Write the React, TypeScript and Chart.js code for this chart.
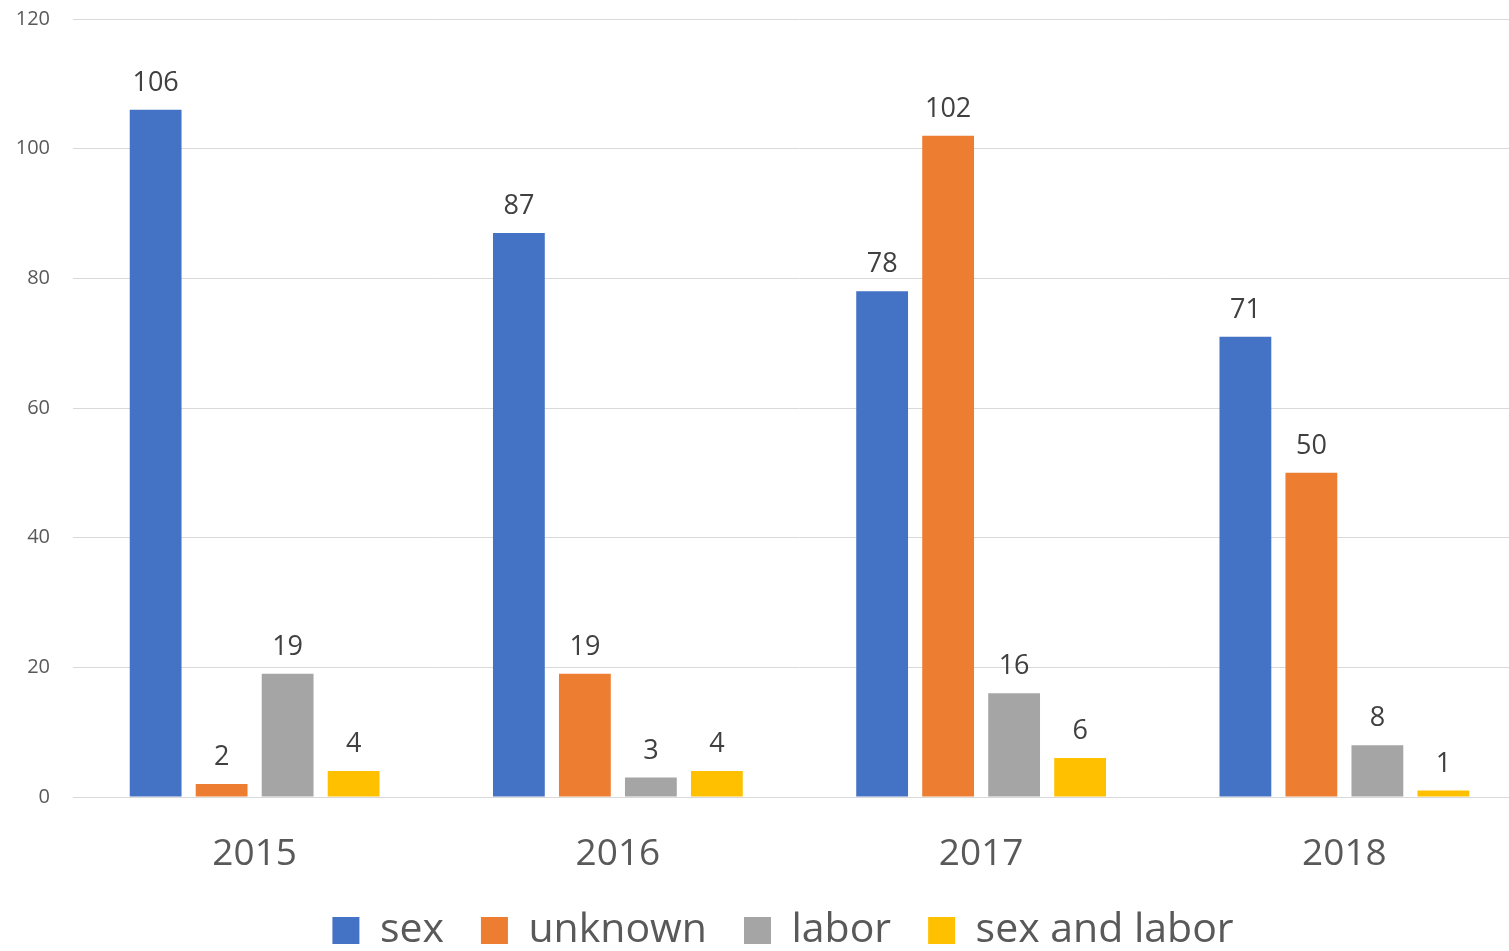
import React, { useEffect, useRef } from "react";
import { Chart, registerables } from "chart.js";

Chart.register(...registerables);

const categories = ["2015", "2016", "2017", "2018"];
const seriesNames = ["sex", "unknown", "labor", "sex and labor"];
const sexValues = [106, 87, 78, 71];
const unknownValues = [2, 19, 102, 50];
const laborValues = [19, 3, 16, 8];
const sexAndLaborValues = [4, 4, 6, 1];
const seriesColors = ["#4472C4", "#ED7D31", "#A5A5A5", "#FFC000"];
const yMin = 0;
const yMax = 120;
const yStep = 20;

const FONT = "'Open Sans', 'Noto Sans', sans-serif";

const valueLabels = {
  id: "valueLabels",
  afterDatasetsDraw(chart: any) {
    const ctx = chart.ctx;
    ctx.save();
    ctx.font = `27px ${FONT}`;
    ctx.fillStyle = "#404040";
    ctx.textAlign = "center";
    ctx.textBaseline = "alphabetic";
    chart.data.datasets.forEach((ds: any, di: number) => {
      const meta = chart.getDatasetMeta(di);
      meta.data.forEach((el: any, i: number) => {
        ctx.fillText(String(ds.data[i]), el.x, el.y - 19);
      });
    });
    ctx.restore();
  },
};

export default function App() {
  const ref = useRef<HTMLCanvasElement>(null);
  useEffect(() => {
    const canvas = ref.current!;
    const mctx = document.createElement("canvas").getContext("2d")!;
    mctx.font = `20px ${FONT}`;
    const widest = mctx.measureText(String(yMax)).width;
    const seriesData = [sexValues, unknownValues, laborValues, sexAndLaborValues];
    const chart = new Chart(canvas, {
      type: "bar",
      data: {
        labels: categories,
        datasets: seriesNames.map((name, i) => ({
          label: name,
          data: seriesData[i],
          backgroundColor: seriesColors[i],
          borderWidth: 0,
          categoryPercentage: 0.7267,
          barPercentage: 0.785,
        })),
      },
      options: {
        animation: false,
        responsive: false,
        devicePixelRatio: 1,
        layout: { padding: { left: 40, top: 19, right: 0, bottom: 0 } },
        plugins: {
          tooltip: { enabled: false },
          legend: {
            position: "bottom",
            labels: {
              color: "#595959",
              font: { family: FONT, size: 41 },
              boxWidth: 27,
              boxHeight: 27,
              padding: 37,
            },
          },
        },
        scales: {
          x: {
            grid: { display: false, drawTicks: false },
            border: { display: true, color: "#d9d9d9", width: 1 },
            ticks: {
              color: "#595959",
              font: { family: FONT, size: 37 },
              padding: 35,
            },
            afterFit: (s: any) => {
              s.height = 76;
            },
          },
          y: {
            min: yMin,
            max: yMax,
            grid: { color: "#d9d9d9", lineWidth: 1, drawTicks: false },
            border: { display: false },
            ticks: {
              stepSize: yStep,
              mirror: true,
              crossAlign: "far",
              color: "#595959",
              font: { family: FONT, size: 20 },
              padding: 50 - 73 - widest,
            },
            afterFit: (s: any) => {
              s.width = 33;
            },
          },
        },
      },
      plugins: [valueLabels],
    });
    return () => chart.destroy();
  }, []);
  return (
    <div
      style={{
        position: "absolute",
        left: 0,
        top: 0,
        width: 1509,
        height: 951,
        overflow: "hidden",
        background: "#ffffff",
      }}
    >
      <canvas
        ref={ref}
        width={1526}
        height={961}
        style={{ display: "block", width: 1526, height: 961 }}
      />
    </div>
  );
}
